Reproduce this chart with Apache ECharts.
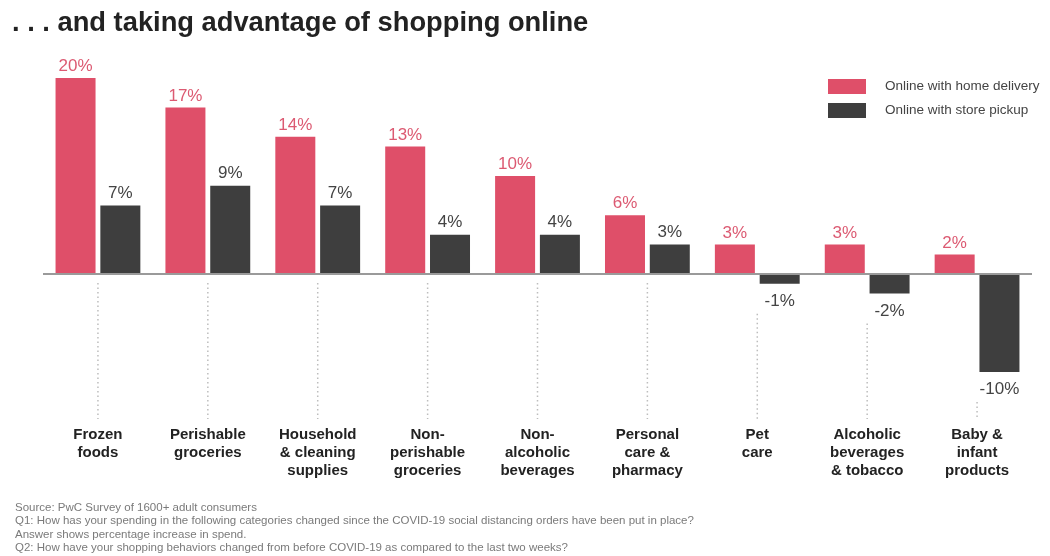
<!DOCTYPE html>
<html>
<head>
<meta charset="utf-8">
<script src="https://cdn.jsdelivr.net/npm/echarts@6/dist/echarts.min.js"></script>
<style>
html,body{margin:0;padding:0;background:#fff;}
#c{width:1050px;height:556px;}
</style>
</head>
<body>
<div id="c"></div>
<script>
const titleText = '. . . and taking advantage of shopping online';
const categories = ['Frozen\nfoods', 'Perishable\ngroceries', 'Household\n& cleaning\nsupplies', 'Non-\nperishable\ngroceries', 'Non-\nalcoholic\nbeverages', 'Personal\ncare &\npharmacy', 'Pet\ncare', 'Alcoholic\nbeverages\n& tobacco', 'Baby &\ninfant\nproducts'];
const homeDelivery = [20, 17, 14, 13, 10, 6, 3, 3, 2];
const storePickup = [7, 9, 7, 4, 4, 3, -1, -2, -10];
const seriesNames = ['Online with home delivery', 'Online with store pickup'];
const footnotes = [
  'Source: PwC Survey of 1600+ adult consumers',
  'Q1: How has your spending in the following categories changed since the COVID-19 social distancing orders have been put in place?',
  'Answer shows percentage increase in spend.',
  'Q2: How have your shopping behaviors changed from before COVID-19 as compared to the last two weeks?'
];

const FONT = '"Liberation Sans", Arial, Helvetica, sans-serif';
const RED = '#df4f69';
const RED_TEXT = '#dc5a72';
const DARK = '#3e3e3e';

const guideData = categories.map((c, i) => [i, Math.min(0, homeDelivery[i], storePickup[i])]);

const chart = echarts.init(document.getElementById('c'));
chart.setOption({
  animation: false,
  backgroundColor: '#fff',
  textStyle: { fontFamily: FONT },
  title: {
    text: titleText,
    left: 7, top: 5,
    textStyle: { fontFamily: FONT, fontSize: 27.3, fontWeight: 'bold', color: '#222' }
  },
  legend: {
    data: seriesNames,
    orient: 'vertical',
    left: 828, top: 79, padding: 0,
    itemWidth: 38, itemHeight: 15, itemGap: 9,
    icon: 'rect',
    textStyle: { fontFamily: FONT, fontSize: 13.5, color: '#444', padding: [0, 0, 0, 14] }
  },
  grid: { left: 43, right: 18, top: 78, bottom: 137 },
  xAxis: {
    type: 'category',
    data: categories,
    axisLine: { show: false },
    axisTick: { show: false },
    axisLabel: {
      interval: 0, margin: 7,
      fontFamily: FONT, fontSize: 15, fontWeight: 'bold', color: '#222', lineHeight: 18
    }
  },
  yAxis: {
    type: 'value', min: -14.8, max: 20,
    show: false, splitLine: { show: false }
  },
  graphic: [{
    type: 'text', left: 15, top: 501,
    style: { text: footnotes.join('\n'), fontFamily: FONT, fontSize: 11.5, lineHeight: 13.5, fill: '#7a7a7a' }
  }],
  series: [
    {
      name: seriesNames[0], type: 'bar', data: homeDelivery,
      barWidth: 40, barGap: '12%',
      itemStyle: { color: RED },
      label: { show: true, position: 'top', distance: 3, formatter: p => p.value + '%', fontFamily: FONT, fontSize: 17, color: RED_TEXT },
      markLine: {
        silent: true, symbol: 'none', label: { show: false },
        lineStyle: { color: '#9a9a9a', width: 2, type: 'solid' },
        data: [{ yAxis: 0 }]
      }
    },
    {
      name: seriesNames[1], type: 'bar',
      data: storePickup.map(v => ({ value: v, label: { position: v < 0 ? 'bottom' : 'top', distance: v < 0 ? 9 : 4 } })),
      barWidth: 40,
      itemStyle: { color: DARK },
      label: {
        show: true, distance: 4, formatter: p => p.value + '%', fontFamily: FONT, fontSize: 17, color: '#444'
      }
    },
    {
      type: 'custom', data: guideData, silent: true, z: 1,
      renderItem: function (params, api) {
        const v = api.value(1);
        const p = api.coord([api.value(0), v]);
        const y1 = p[1] + (v < 0 ? 30 : 9);
        const y2 = params.coordSys.y + params.coordSys.height;
        return {
          type: 'line',
          shape: { x1: p[0], y1: y1, x2: p[0], y2: y2 },
          style: { stroke: '#bdbdbd', lineWidth: 1.5, lineDash: [1.5, 3] }
        };
      }
    }
  ]
});
</script>
</body>
</html>
